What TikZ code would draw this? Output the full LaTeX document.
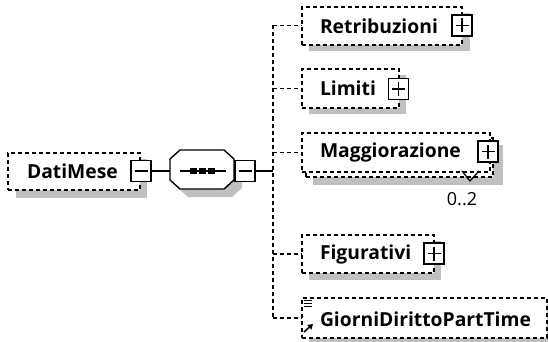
\documentclass[tikz,border=0pt]{standalone}
\usepackage{fontspec}
\setmainfont{Open Sans}
\usetikzlibrary{arrows.meta}
\begin{document}
\begin{tikzpicture}[x=1pt,y=-1pt,
  every node/.style={inner sep=0pt, outer sep=0pt},
  dsh/.style={line width=1.2pt, dash pattern=on 4pt off 3pt},
  elem/.style={draw, dsh, fill=white, anchor=north west},
  shd/.style={fill=shadowc},
  lbl/.style={anchor=west, font=\bfseries\fontsize{19.3}{22}\selectfont},
  pmbox/.style={draw, solid, fill=white, line width=1.5pt, minimum width=20pt, minimum height=21pt},
  plusbox/.style={pmbox, path picture={\draw[line width=1.5pt]
     ([xshift=-6.5pt]path picture bounding box.center) -- ([xshift=6.5pt]path picture bounding box.center)
     ([yshift=-7pt]path picture bounding box.center) -- ([yshift=7pt]path picture bounding box.center);}},
  minusbox/.style={pmbox, path picture={\draw[line width=1.5pt]
     ([xshift=-6.5pt]path picture bounding box.center) -- ([xshift=6.5pt]path picture bounding box.center);}},
  conn/.style={line width=1.3pt},
]
\definecolor{shadowc}{RGB}{192,192,192}
\useasboundingbox (0,0) rectangle (548,342);
% ---------- DatiMese
\fill[shd] (16,159) rectangle (147,198);
\node[elem, minimum width=132pt, minimum height=37pt] (dm) at (8,153) {};
\node[lbl] (dmt) at (27,171.5) {DatiMese};
\node[minusbox] (dmm) at (141,171) {};
% ---------- sequence
\fill[shd] (188,158) -- (232,158) -- (242,167) -- (242,188) -- (232,197) -- (188,197) -- (178,188) -- (178,167) -- cycle;
\node[minimum width=64pt, minimum height=39pt] (seq) at (202,170) {};
\draw[line width=1.4pt, fill=white] (180,150) -- (224,150) -- (234,159) -- (234,180) -- (224,189) -- (180,189) -- (170,180) -- (170,159) -- cycle;
\draw[line width=1.3pt] (180,171) -- (226,171);
\fill (190,168) rectangle ++(6.5,6);
\fill (199,168) rectangle ++(6.5,6);
\fill (208,168) rectangle ++(6.5,6);
\node[minusbox] (seqm) at (245,171) {};
\draw[conn] (dmm.east) -- (seq.west |- dmm.east);
% ---------- bus
\coordinate (bt) at (273,25.5);
\coordinate (bb) at (273,318);
\coordinate (bm) at (273,171);
\draw[conn] (seqm.east) -- (bm);
\draw[conn, dsh] (bt) -- (bb);
% ---------- Retribuzioni
\fill[shd] (309,13) rectangle (470,51);
\node[elem, minimum width=160pt, minimum height=38pt] (retr) at (302,7) {};
\node[lbl] at (320,26) {Retribuzioni};
\node[plusbox] (retrp) at (462,25.5) {};
\draw[conn, dsh] (bt) -- (retr.west |- bt);
% ---------- Limiti
\fill[shd] (309,75) rectangle (406,114);
\node[elem, minimum width=97pt, minimum height=39pt] (lim) at (302,69) {};
\node[lbl] at (320,88.5) {Limiti};
\node[plusbox] (limp) at (398.5,89) {};
\draw[conn, dsh] (273,88.5) -- (lim.west);
% ---------- Maggiorazione
\fill[shd] (313,145) rectangle (503,185);
\node[elem, minimum width=187pt, minimum height=39pt] (maggb) at (306,138) {};
\node[elem, minimum width=188pt, minimum height=39pt] (magg) at (302,133) {};
\node[lbl] at (320,152.5) {Maggiorazione};
\node[plusbox] (maggp) at (488,151.5) {};
\draw[conn, dsh] (273,152.5) -- (magg.west);
\draw[line width=1.3pt] (462,171) -- (470,181) -- (479,171);
\node[font=\fontsize{18}{20}\selectfont] (occ) at (462,199.5) {0..2};
% ---------- Figurativi
\fill[shd] (309,241) rectangle (441,280);
\node[elem, minimum width=132pt, minimum height=38pt] (fig) at (302,235) {};
\node[lbl] at (320,254) {Figurativi};
\node[plusbox] (figp) at (434,253.5) {};
\draw[conn, dsh] (273,254) -- (fig.west);
% ---------- GiorniDirittoPartTime
\fill[shd] (309,304) rectangle (553,345);
\node[elem, minimum width=245pt, minimum height=40pt] (gio) at (302,298) {};
\node[lbl] at (320,319) {GiorniDirittoPartTime};
\draw[conn, dsh] (bb) -- (gio.west);
\draw[line width=1.2pt] (304,300.5) -- (312,300.5) (304,303.5) -- (312,303.5) (304,306.5) -- (312,306.5);
\draw[line width=1.6pt, -{Triangle[length=5pt,width=6pt]}] (304,332) -- (313,324);
\end{tikzpicture}
\end{document}
